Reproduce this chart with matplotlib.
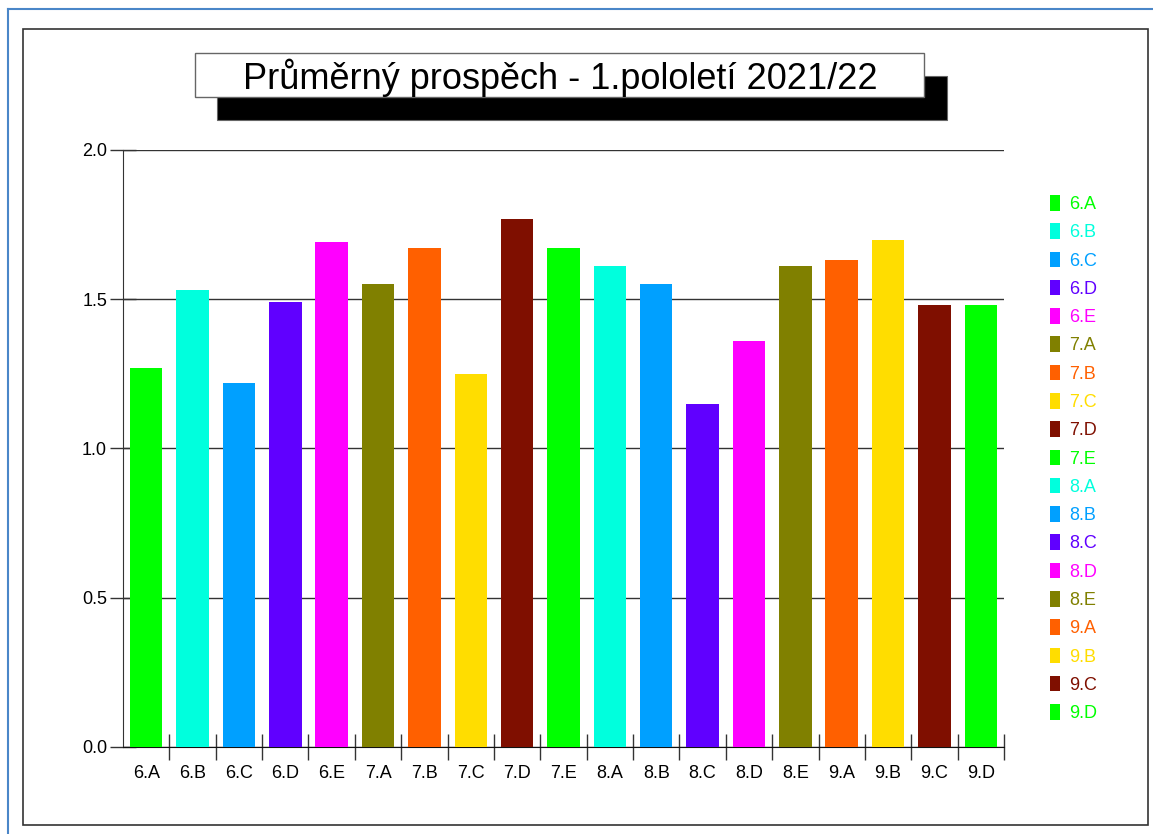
import matplotlib
matplotlib.use("Agg")
import matplotlib.pyplot as plt
from matplotlib.patches import Rectangle, Patch
from matplotlib.lines import Line2D

plt.rcParams['font.family'] = ['Liberation Sans', 'DejaVu Sans']

title = "Průměrný prospěch - 1.pololetí 2021/22"
categories = ["6.A", "6.B", "6.C", "6.D", "6.E", "7.A", "7.B", "7.C", "7.D", "7.E",
              "8.A", "8.B", "8.C", "8.D", "8.E", "9.A", "9.B", "9.C", "9.D"]
values = [1.27, 1.53, 1.22, 1.49, 1.69, 1.55, 1.67, 1.25, 1.77, 1.67,
          1.61, 1.55, 1.15, 1.36, 1.61, 1.63, 1.70, 1.48, 1.48]
palette = ["#00FF00", "#00FFDD", "#00A0FF", "#6000FF", "#FF00FF",
           "#808000", "#FF6000", "#FFDD00", "#7F0F00"]
colors = [palette[i % len(palette)] for i in range(len(categories))]
yticks = [0.0, 0.5, 1.0, 1.5, 2.0]

W, H = 1153, 834
fig = plt.figure(figsize=(W / 100, H / 100), dpi=100)

def fx(x):
    return x / W

def fy(y):
    return 1 - y / H

# outer blue border (continues beyond the image)
fig.add_artist(Line2D([fx(8), fx(W + 5)], [fy(9), fy(9)], color="#4A86C8", lw=1.5))
fig.add_artist(Line2D([fx(8), fx(8)], [fy(9), fy(H + 5)], color="#4A86C8", lw=1.5))
# inner frame
fig.add_artist(Rectangle((fx(23), fy(825)), fx(1148) - fx(23), fy(29) - fy(825),
                         fill=False, edgecolor="#333333", lw=1.2))

# title box with shadow
fig.add_artist(Rectangle((fx(217), fy(120)), fx(947) - fx(217), fy(76) - fy(120),
                         facecolor="black", edgecolor="#666666", lw=0.8))
fig.add_artist(Rectangle((fx(195), fy(97)), fx(924) - fx(195), fy(53) - fy(97),
                         facecolor="white", edgecolor="#666666", lw=1.0))
fig.text(fx(560), fy(78), title, ha="center", va="center", fontsize=26, color="black")

ax = fig.add_axes([fx(123), fy(746.7), fx(1004) - fx(123), fy(150) - fy(746.7)])
x = list(range(len(categories)))
ax.bar(x, values, width=0.70, color=colors, edgecolor="none", zorder=3)
ax.set_xlim(-0.5, len(categories) - 0.5)
ax.set_ylim(0, 2.0)
ax.set_yticks(yticks)
ax.set_yticklabels([f"{v:.1f}" for v in yticks], fontsize=13)
ax.yaxis.grid(True, color="#333333", lw=1.0, zorder=0)
ax.set_axisbelow(True)

ax.set_xticks(x)
ax.set_xticklabels(categories, fontsize=13)
ax.tick_params(axis="x", which="major", length=0, pad=13)
ax.set_xticks([i + 0.5 for i in range(len(categories))], minor=True)
ax.tick_params(axis="x", which="minor", direction="inout", length=19, width=1.0, color="#333333")
ax.tick_params(axis="y", direction="inout", length=19, width=1.0, color="#333333", pad=2)

for s in ["top", "right"]:
    ax.spines[s].set_visible(False)
ax.spines["left"].set_color("#333333")
ax.spines["bottom"].set_color("#111111")

handles = [Patch(facecolor=c, edgecolor="none") for c in colors]
leg = fig.legend(handles, categories, loc="upper left",
                 bbox_to_anchor=(fx(1050), fy(195)), bbox_transform=fig.transFigure,
                 frameon=False, fontsize=13, handlelength=0.56, handleheight=0.95,
                 handletextpad=0.5, labelspacing=0.57, borderpad=0, borderaxespad=0)
for t, c in zip(leg.get_texts(), colors):
    t.set_color(c)

fig.savefig("out.png", dpi=100)
